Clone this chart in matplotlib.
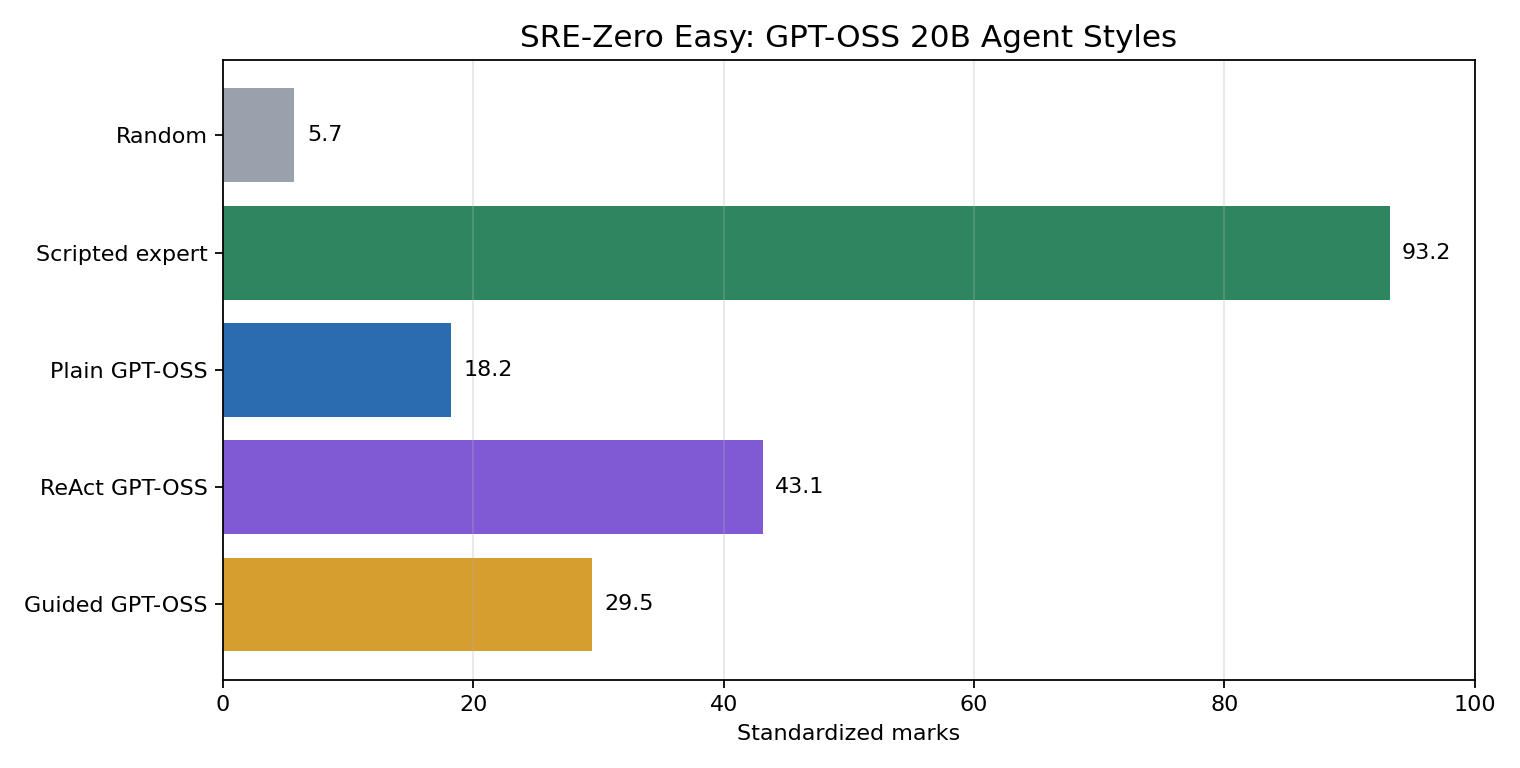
import matplotlib
matplotlib.use('Agg')
import matplotlib.pyplot as plt

agents = ['Random', 'Scripted expert', 'Plain GPT-OSS', 'ReAct GPT-OSS', 'Guided GPT-OSS']
scores = [5.7, 93.2, 18.2, 43.1, 29.5]
colors = ['#9AA1AC', '#2E865F', '#2B6CB0', '#805AD5', '#D69E2E']

fig, ax = plt.subplots(figsize=(9.5, 4.8), dpi=160)
bars = ax.barh(agents, scores, color=colors)
ax.invert_yaxis()

for bar, val in zip(bars, scores):
    ax.text(bar.get_width() + 1, bar.get_y() + bar.get_height() / 2, f'{val:.1f}',
            va='center', ha='left', fontsize=10)

ax.set_xlim(0, 100)
ax.set_xlabel('Standardized marks')
ax.set_title('SRE-Zero Easy: GPT-OSS 20B Agent Styles', fontsize=14)
ax.grid(axis='x', alpha=0.3)

plt.tight_layout()
plt.savefig('out.png', dpi=160)
